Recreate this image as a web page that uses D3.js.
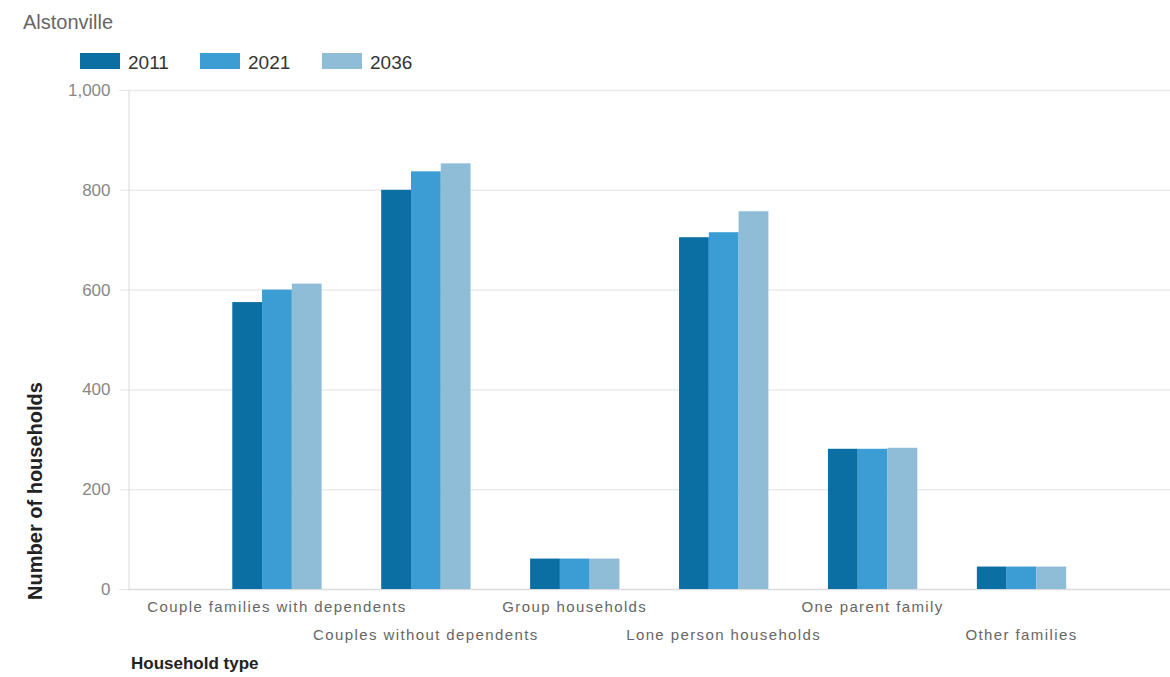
<!DOCTYPE html>
<html>
<head>
<meta charset="utf-8">
<script src="https://cdn.jsdelivr.net/npm/d3@7"></script>
<style>
  html, body { margin: 0; padding: 0; background: #fff; }
  svg { display: block; }
  text { font-family: "Liberation Sans", Arial, sans-serif; }
</style>
</head>
<body>
<svg id="chart" width="1170" height="677"></svg>
<script>
const chartTitle = "Alstonville";
const categories = [
  "Couple families with dependents",
  "Couples without dependents",
  "Group households",
  "Lone person households",
  "One parent family",
  "Other families"
];
const seriesNames = ["2011", "2021", "2036"];
const values2011 = [575, 800, 61, 705, 281, 45];
const values2021 = [600, 837, 61, 715, 281, 45];
const values2036 = [612, 853, 61, 757, 283, 45];
const seriesColors = ["#0b6fa4", "#3b9dd3", "#8fbdd8"];
const yTicks = [0, 200, 400, 600, 800, 1000];
const yTitle = "Number of households";
const xTitle = "Household type";

const allValues = [values2011, values2021, values2036];
const W = 1170, H = 677;
const plotLeft = 128, plotRight = 1170, plotTop = 90, plotBottom = 589;

const svg = d3.select("#chart");
svg.append("rect").attr("width", W).attr("height", H).attr("fill", "#fff");

const y = d3.scaleLinear().domain([0, 1000]).range([plotBottom, plotTop]);
const x0 = d3.scaleBand().domain(categories).range([202.5, 1096]).paddingInner(0.4).paddingOuter(0.2);
const x1 = d3.scaleBand().domain(seriesNames).range([0, x0.bandwidth()]).padding(0);

// gridlines
svg.append("g").selectAll("line").data(yTicks).join("line")
  .attr("x1", plotLeft).attr("x2", plotRight)
  .attr("y1", d => y(d) + 0.5).attr("y2", d => y(d) + 0.5)
  .attr("stroke", d => d === 0 ? "#dcdcdc" : "#ebebeb").attr("stroke-width", 1.5);

// y axis
const yAxis = d3.axisLeft(y).tickValues(yTicks).tickSize(9).tickPadding(9).tickFormat(d3.format(","));
const gy = svg.append("g").attr("transform", `translate(${plotLeft + 0.5},0)`).call(yAxis);
gy.select(".domain").attr("stroke", "#dadada");
gy.selectAll(".tick line").attr("stroke", "#e4e4e4");
gy.selectAll(".tick text").attr("fill", "#888").style("font-size", "17px");

// bars
const groups = svg.append("g").selectAll("g").data(categories).join("g")
  .attr("transform", d => `translate(${x0(d)},0)`);
groups.selectAll("rect").data((c, i) => seriesNames.map((s, j) => ({ s, v: allValues[j][i], j })))
  .join("rect")
  .attr("x", d => x1(d.s))
  .attr("width", x1.bandwidth())
  .attr("y", d => y(d.v))
  .attr("height", d => y(0) - y(d.v))
  .attr("fill", d => seriesColors[d.j]);

// x labels (staggered)
svg.append("g").selectAll("text").data(categories).join("text")
  .attr("x", d => x0(d) + x0.bandwidth() / 2)
  .attr("y", (d, i) => i % 2 === 0 ? 612 : 640)
  .attr("text-anchor", "middle")
  .attr("fill", "#666")
  .style("font-size", "15px")
  .style("letter-spacing", "1.4px")
  .text(d => d);

// axis titles
svg.append("text")
  .attr("transform", `translate(42,491) rotate(-90)`)
  .attr("text-anchor", "middle")
  .attr("fill", "#222")
  .style("font-size", "20px").style("font-weight", "bold")
  .text(yTitle);

svg.append("text")
  .attr("x", 131).attr("y", 669)
  .attr("fill", "#222")
  .style("font-size", "17px").style("font-weight", "bold")
  .text(xTitle);

// title
svg.append("text")
  .attr("x", 23).attr("y", 29)
  .attr("fill", "#666")
  .style("font-size", "20px")
  .text(chartTitle);

// legend
const legendX = [80, 200, 322];
const leg = svg.append("g").selectAll("g").data(seriesNames).join("g")
  .attr("transform", (d, i) => `translate(${legendX[i]},53)`);
leg.append("rect").attr("width", 40).attr("height", 16).attr("fill", (d, i) => seriesColors[i]);
leg.append("text").attr("x", 48).attr("y", 16).attr("fill", "#333")
  .style("font-size", "19px").text(d => d);
</script>
</body>
</html>
